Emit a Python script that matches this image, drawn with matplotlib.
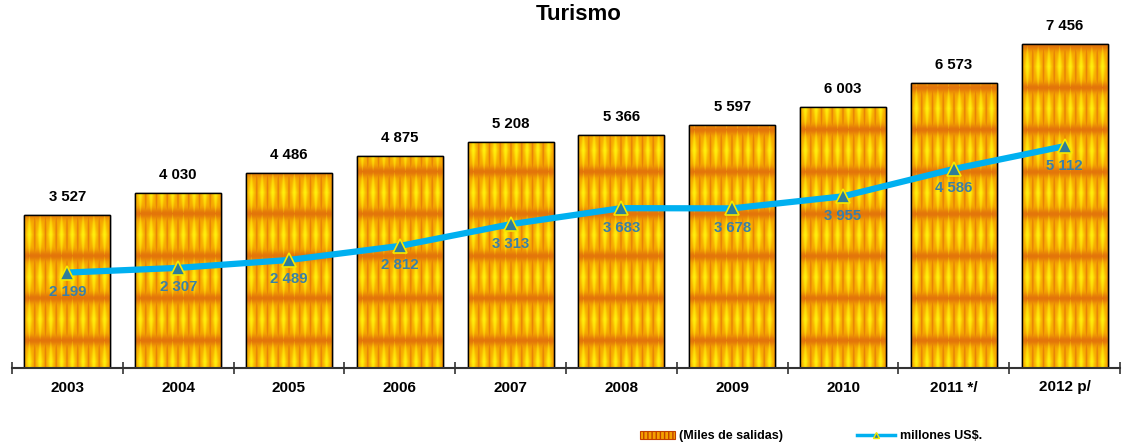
import numpy as np
import matplotlib
matplotlib.use("Agg")
import matplotlib.pyplot as plt
from matplotlib.patches import Patch
from matplotlib.lines import Line2D

plt.rcParams["font.family"] = ["Liberation Sans", "DejaVu Sans"]

years = ["2003", "2004", "2005", "2006", "2007", "2008", "2009", "2010", "2011 */", "2012 p/"]
salidas = [3527, 4030, 4486, 4875, 5208, 5366, 5597, 6003, 6573, 7456]
usd = [2199, 2307, 2489, 2812, 3313, 3683, 3678, 3955, 4586, 5112]

def fmt(v):
    return f"{v:,}".replace(",", " ")

W, H, DPI = 1124, 446, 100
fig = plt.figure(figsize=(W / DPI, H / DPI), dpi=DPI)
ax_left, ax_right = 12, 1120
ax_bottom_px, ax_top_px = 368, 22
ax = fig.add_axes([ax_left / W, (H - ax_bottom_px) / H,
                   (ax_right - ax_left) / W, (ax_bottom_px - ax_top_px) / H])
ymax = (ax_bottom_px - ax_top_px) / 0.0434
ax.set_xlim(-0.5, len(years) - 0.5)
ax.set_ylim(0, ymax)

x = np.arange(len(years))
bw = 0.775

def texture(hpx, wpx):
    yy, xx = np.mgrid[0:hpx, 0:wpx].astype(float)
    u = ((xx + 0.5) % 10.75) / 10.75
    v = ((hpx - yy + 14) % 42) / 42.0
    d = np.abs(u - 0.5)
    dv = np.abs(v - 0.5)
    ex = np.exp(-((0.5 - d) / 0.09) ** 2)
    ey = np.exp(-((0.5 - dv) / 0.13) ** 2)
    shape = np.clip(1 - 2 * dv, 0, 1)
    yam = np.exp(-(d / (0.22 * shape + 0.03)) ** 2) * shape ** 0.6
    orange = np.array([0.89, 0.46, 0.04])
    gold = np.array([0.97, 0.68, 0.0])
    yellow = np.array([1.0, 0.94, 0.05])
    dk = np.clip(np.maximum(ex * 0.75, ey), 0, 1)[..., None]
    img = gold * (1 - dk) + orange * dk
    yam = yam[..., None]
    img = img * (1 - yam) + yellow * yam
    return np.clip(img, 0, 1)

bars = ax.bar(x, salidas, width=bw, color="#F0A000", edgecolor="black", linewidth=1.0, zorder=2)
for xi, val, bar in zip(x, salidas, bars):
    hpx = max(int(val * 0.0434), 2)
    wpx = 86
    im = ax.imshow(texture(hpx, wpx), extent=(xi - bw / 2, xi + bw / 2, 0, val),
                   aspect="auto", zorder=2.5, interpolation="bilinear")
    im.set_clip_path(bar)
    ax.bar(xi, val, width=bw, fill=False, edgecolor="black", linewidth=1.0, zorder=2.6)
    ax.annotate(fmt(val), (xi, val), xytext=(0, 8), textcoords="offset points",
                ha="center", va="bottom", fontsize=10.8, fontweight="bold", color="black")

ax.plot(x, usd, color="#00B0F0", linewidth=4.5, zorder=3, solid_capstyle="butt")
ax.plot(x, usd, linestyle="none", marker="^", markersize=10, markerfacecolor="#2E7D9A",
        markeredgecolor="#F5E800", markeredgewidth=1.2, zorder=4)
for xi, val in zip(x, usd):
    ax.annotate(fmt(val), (xi, val), xytext=(0, -9), textcoords="offset points",
                ha="center", va="top", fontsize=10.8, fontweight="bold", color="#3A7FA8", zorder=5)

ax.set_xticks(x)
ax.set_xticklabels(years, fontsize=11, fontweight="bold")
ax.tick_params(axis="x", which="major", length=0, pad=9)
ax.set_xticks(np.arange(-0.5, len(years)), minor=True)
ax.tick_params(axis="x", which="minor", length=9, direction="inout", width=1.2, color="#333333")
ax.set_yticks([])
for s in ["left", "right", "top"]:
    ax.spines[s].set_visible(False)
ax.spines["bottom"].set_color("#333333")
ax.spines["bottom"].set_linewidth(1.5)
ax.spines["bottom"].set_zorder(5)

fig.text(579 / W, 1 - 15 / H, "Turismo", ha="center", va="center", fontsize=16, fontweight="bold")

h1 = Patch(facecolor="#F5A000", edgecolor="#C04000", hatch="||||", linewidth=0.8)
h2 = Line2D([0], [0], color="#00B0F0", linewidth=2.5, marker="^", markersize=5,
            markerfacecolor="#2E7D9A", markeredgecolor="#F5E800")
prop = {"size": 9, "weight": "bold"}
fig.legend([h1], ["(Miles de salidas)"], frameon=False, loc="center left",
           bbox_to_anchor=(640 / W, 1 - 436 / H), prop=prop, borderpad=0, borderaxespad=0,
           handlelength=2.8, handletextpad=0.35, handleheight=0.6)
fig.legend([h2], ["millones US$."], frameon=False, loc="center left",
           bbox_to_anchor=(857 / W, 1 - 436 / H), prop=prop, borderpad=0, borderaxespad=0,
           handlelength=3.0, handletextpad=0.4)

fig.savefig("out.png", dpi=DPI)
